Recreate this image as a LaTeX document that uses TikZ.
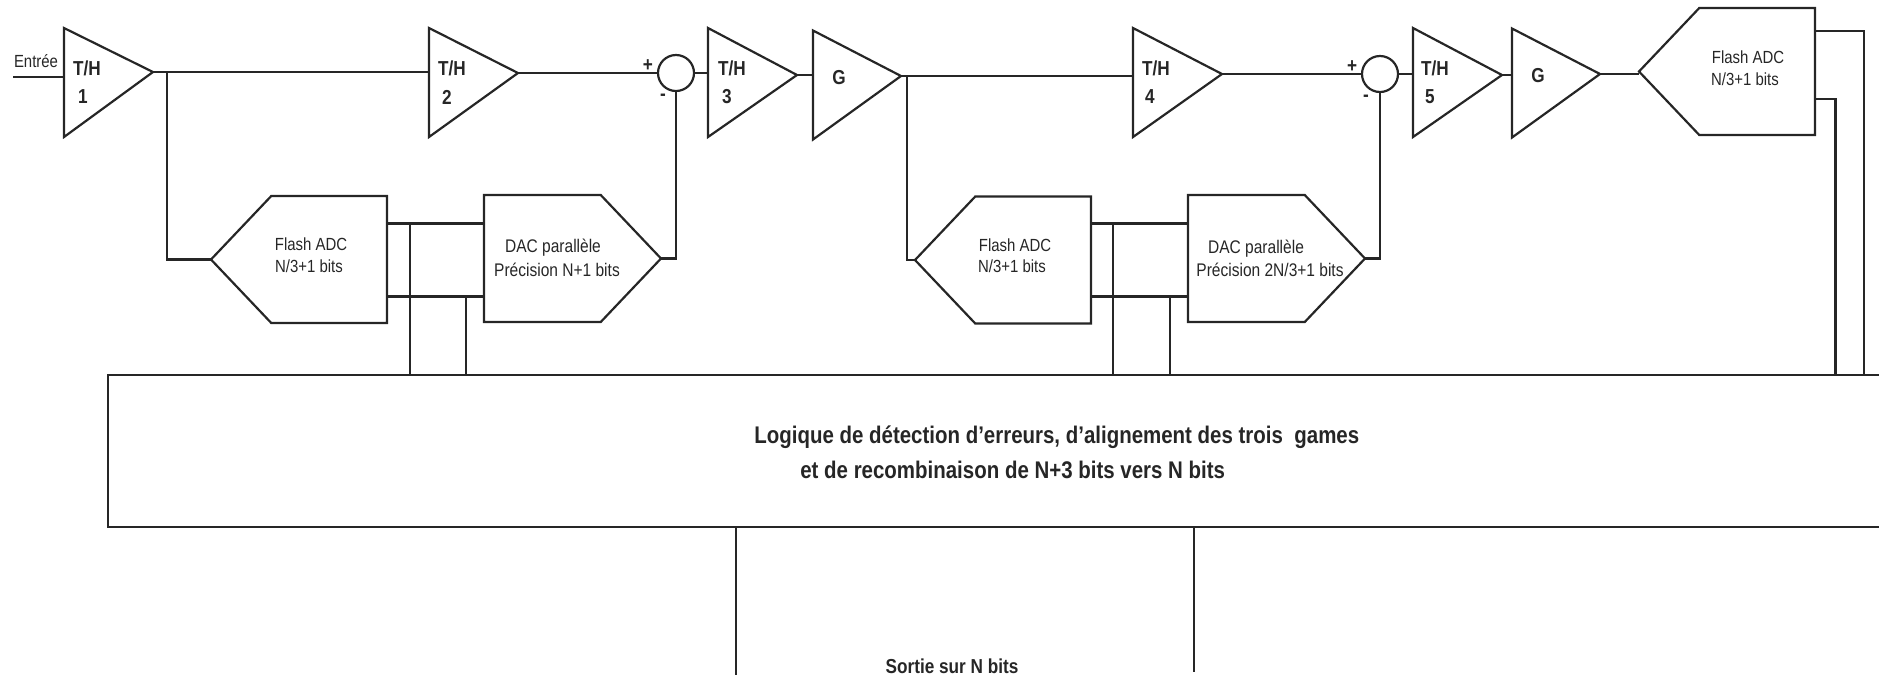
\documentclass[tikz,border=0pt]{standalone}
\usepackage{fontspec}
\setmainfont[FakeStretch=0.85]{Liberation Sans}
\usetikzlibrary{shapes.symbols}
\tikzset{
    wire/.style={line width=1.25pt,black!85},
    ampbox/.style={rectangle,inner sep=0pt,outer sep=0pt,minimum height=109*.02cm,minimum width=89*.02cm},
    sumnode/.style={circle,draw,wire,inner sep=0pt,outer sep=0pt,minimum size=36*.02cm},
    lab/.style={inner sep=0pt,font=\fontsize{11.5}{13}\selectfont\bfseries,black!85},
    biglab/.style={inner sep=0pt,font=\fontsize{13.7}{15}\selectfont\bfseries,black!85},
    small/.style={inner sep=0pt,font=\fontsize{10}{12}\selectfont,black!85},
    smalldac/.style={inner sep=0pt,font=\fontsize{10.4}{12}\selectfont,black!85},
    adc/.style={signal,signal to=west,signal from=nowhere,signal pointer angle=93,draw,wire,inner sep=0pt,outer sep=0pt,minimum height=127*.02cm,minimum width=176*.02cm},
    dac/.style={signal,signal to=east,signal from=nowhere,signal pointer angle=93,draw,wire,inner sep=0pt,outer sep=0pt,minimum height=127*.02cm,minimum width=177*.02cm}
}
\begin{document}
\begin{tikzpicture}[x=.02cm,y=-.02cm]
        \useasboundingbox (0,0) rectangle (1879,677);
        \clip (0,0) rectangle (1879,677);
        \foreach \nm/\x/\yt/\tip/\tx/\nx/\numb in {th1/64/82.5/72/87/83/1,th2/429/82.5/73/452/447/2,th3/708/82.5/75/732/727/3,th4/1133/82.5/74/1156/1150/4,th5/1413/82.5/75/1435/1430/5}{
            \node[ampbox,anchor=west] (\nm) at (\x,\yt) {};
            \coordinate (\nm out) at (\x+89,\tip);
            \draw[wire] (\nm.north west)--(\nm out)--(\nm.south west)--cycle;
            \node[lab] (\nm txt) at (\tx,68) {T/H};
            \node[lab] (\nm num) at (\nx,97) {\numb};
        }
        \foreach \nm/\x/\yt/\tip/\tx/\ty in {g1/813/85/76/839/78,g2/1512/83/74/1538/76}{
            \node[ampbox,anchor=west] (\nm) at (\x,\yt) {};
            \coordinate (\nm out) at (\x+88,\tip);
            \draw[wire] (\nm.north west)--(\nm out)--(\nm.south west)--cycle;
            \node[lab] (\nm txt) at (\tx,\ty) {G};
        }
        \node[small] (entree) at (36,61) {Entrée};
        \coordinate (in) at (13,77);
        \draw[wire] (in)--(in -| th1.west);
        \node[sumnode] (sum1) at (676,73) {};
        \node[sumnode] (sum2) at (1380,74) {};
        \foreach \s/\x/\y in {sum1/648/66,sum2/1352/67}
            \node[lab] (\s plus) at (\x,\y) {+};
        \foreach \s/\x/\y in {sum1/663/97,sum2/1366/98}
            \node[lab] (\s minus) at (\x,\y) {-};
        \node[adc,anchor=east] (adc1) at (387,259.5) {};
        \node[dac,anchor=west] (dac1) at (484,258.5) {};
        \node[adc,anchor=east] (adc2) at (1091,260) {};
        \node[dac,anchor=west] (dac2) at (1188,258.5) {};
        \node[adc,anchor=east] (adc3) at (1815,71.5) {};
        \foreach \nm/\x/\y/\txt in {adc1a/311/244/Flash ADC,adc1b/309/266/N\slash 3+1 bits,adc2a/1015/245/Flash ADC,adc2b/1012/266/N\slash 3+1 bits,adc3a/1748/57/Flash ADC,adc3b/1745/79/N\slash 3+1 bits}
            \node[small] (\nm) at (\x,\y) {\txt};
        \foreach \nm/\x/\y/\txt in {dac1a/553/248/DAC parallèle,dac1b/557/270/Précision N+1 bits,dac2a/1256/249/DAC parallèle,dac2b/1270/270/Précision 2N\slash 3+1 bits}
            \node[smalldac] (\nm) at (\x,\y) {\txt};
        \node[draw,wire,rectangle,inner sep=0pt,outer sep=0pt,anchor=west,minimum height=152*.02cm,minimum width=1790*.02cm] (logic) at (108,451) {};
        \node[biglab,anchor=west] (logic1) at (754,437) {Logique de détection d'erreurs, d'alignement des trois\ \ games};
        \node[biglab,anchor=west] (logic2) at (800,470) {et de recombinaison de N+3 bits vers N bits};
        \node[lab] (sortie) at (952,666) {Sortie sur N bits};
        \draw[wire] (th1out)--(th1out -| th2.west) (th2out)--(sum1.west);
        \draw[wire] (sum1.east)--(sum1.east -| th3.west) (th3out)--(th3out -| g1.west);
        \draw[wire] (g1out)--(g1out -| th4.west) (th4out)--(th4out -| sum2.west);
        \draw[wire] (sum2.east)--(sum2.east -| th5.west) (th5out)--(th5out -| g2.west);
        \draw[wire] (g2out)--(g2out -| adc3.west);
        \coordinate (tap1) at (167,72);
        \coordinate (tap2) at (907,76);
        \draw[wire] (tap1)--(tap1 |- adc1.west)--(adc1.west);
        \draw[wire] (tap2)--(tap2 |- adc2.west)--(adc2.west);
        \draw[wire] (dac1.east)--(sum1.south |- dac1.east)--(sum1.south);
        \draw[wire] (dac2.east)--(sum2.south |- dac2.east)--(sum2.south);
        \foreach \a/\d/\xa/\xb in {adc1/dac1/410/466,adc2/dac2/1113/1170}{
            \coordinate (\a hi) at (\xa,223.5);
            \coordinate (\a lo) at (\xb,296.5);
            \draw[wire] (\a.east |- \a hi)--(\d.west |- \a hi) (\a.east |- \a lo)--(\d.west |- \a lo);
            \draw[wire] (\a hi)--(\a hi |- logic.north) (\a lo)--(\a lo |- logic.north);
        }
        \coordinate (out1) at (1864,31);
        \coordinate (out2) at (1835.5,99);
        \draw[wire] (adc3.east |- out1)--(out1)--(out1 |- logic.north);
        \draw[wire] (adc3.east |- out2)--(out2)--(out2 |- logic.north);
        \coordinate (bus1) at (736,675);
        \coordinate (bus2) at (1194,672);
        \draw[wire] (bus1 |- logic.south)--(bus1) (bus2 |- logic.south)--(bus2);
    \end{tikzpicture}
\end{document}
